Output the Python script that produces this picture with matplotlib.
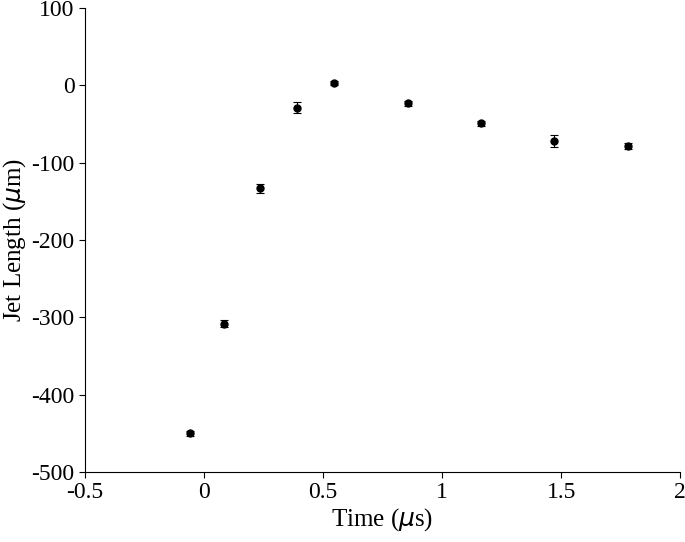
import matplotlib
matplotlib.use("Agg")
import matplotlib.pyplot as plt

time_us = [-0.06, 0.085, 0.235, 0.39, 0.545, 0.855, 1.165, 1.47, 1.78]
jet_len = [-450, -308, -133, -29, 3, -23, -49, -72, -78]
jet_err = [3, 5, 6, 7, 3, 3, 3, 8, 4]

plt.rcParams["font.family"] = "Liberation Serif"
fig = plt.figure(figsize=(6.85, 5.42), dpi=100)
ax = fig.add_axes([0.124, 0.129, 0.869, 0.856])
ax.errorbar(time_us, jet_len, yerr=jet_err, fmt="o", color="black",
            markersize=5, capsize=3, elinewidth=0.8, capthick=0.8)
ax.set_xlim(-0.5, 2)
ax.set_ylim(-500, 100)
ax.set_xticks([-0.5, 0, 0.5, 1, 1.5, 2])
ax.set_xticklabels(["-0.5", "0", "0.5", "1", "1.5", "2"])
ax.set_yticks(range(-500, 101, 100))
ax.set_yticklabels([str(v) for v in range(-500, 101, 100)])
ax.tick_params(labelsize=17, direction="out", length=4)
ax.spines["top"].set_visible(False)
ax.spines["right"].set_visible(False)
ax.set_xlabel("Time ($\\mu$s)", fontsize=18, labelpad=2)
ax.set_ylabel("Jet Length ($\\mu$m)", fontsize=18, labelpad=2)
fig.savefig("out.png", dpi=100)
